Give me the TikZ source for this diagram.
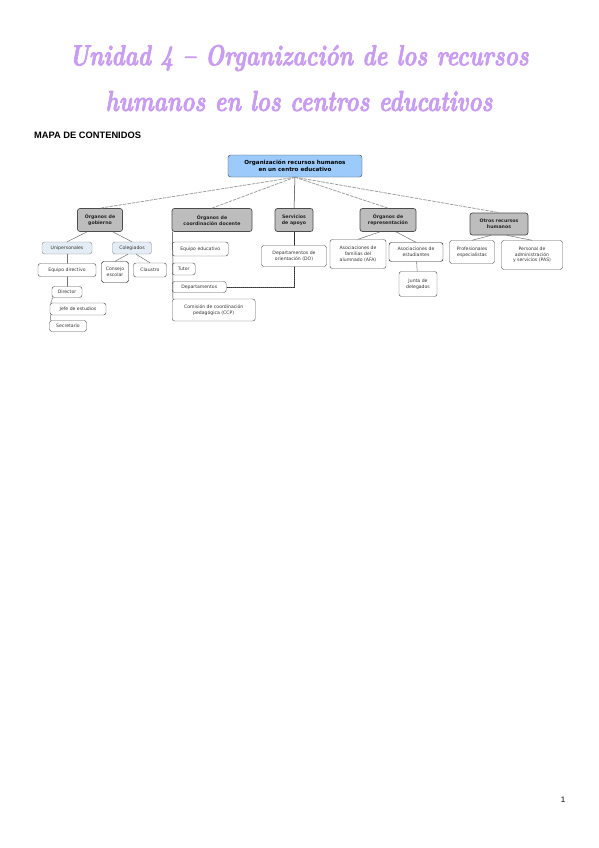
\documentclass[tikz,border=0pt]{standalone}
\usepackage{fontspec}
\setmainfont{Latin Modern Roman}
\newfontfamily\mapfont{DejaVu Sans}
\newfontfamily\headfont{Liberation Sans}
\newfontfamily\titlefont{lmroman10-bolditalic.otf}[FakeBold=2.5]
\usepackage{tikz}
\definecolor{lila}{HTML}{C99BF2}
\definecolor{rootblue}{HTML}{9CCBFB}
\definecolor{boxgray}{HTML}{BDBDBD}
\definecolor{paleblue}{HTML}{E4EDF5}

\tikzset{
  cbox/.style={rounded corners=2.5pt,align=center,inner sep=0.5pt,font=\mapfont\fontsize{4.6}{5.6}\selectfont,text=black!80},
  rootbox/.style={cbox,fill=rootblue,draw=black!75,font=\mapfont\bfseries\fontsize{5.6}{6.8}\selectfont,text=black},
  groupbox/.style={cbox,fill=boxgray,draw=black!70,line width=0.7pt,font=\mapfont\bfseries\fontsize{4.7}{5.8}\selectfont,text=black!85},
  kindbox/.style={cbox,fill=paleblue,draw=black!45},
  leafbox/.style={cbox,fill=white,draw=black!65,line width=0.45pt},
  titletext/.style={text=lila,font=\titlefont\fontsize{22.3}{27}\selectfont,yscale=1.3,transform shape},
  dashlink/.style={gray!75,line width=0.8pt,dash pattern=on 3pt off 1.5pt},
  link/.style={black!80,line width=0.5pt},
  softlink/.style={black!55,line width=0.5pt},
  dotlink/.style={black!80,line width=0.5pt,dash pattern=on 1.2pt off 0.8pt}
}

\begin{document}
\begin{tikzpicture}[x=1pt,y=-1pt,line cap=round]
\useasboundingbox (0,0) rectangle (599,848);

% title
\node[titletext] (title1) at (299,58) {Unidad 4 – Organización de los recursos};
\node[titletext] (title2) at (299,101) {humanos en los centros educativos};
\node[anchor=west,font=\headfont\bfseries\fontsize{9.3}{11}\selectfont,inner sep=0] (mapa) at (34,135) {MAPA DE CONTENIDOS};

% root
\node[rootbox,minimum width=134,minimum height=22] (root) at (295,166) {Organización recursos humanos\\en un centro educativo};

% first level
\node[groupbox,minimum width=45,minimum height=23] (gob) at (100,220) {Órganos de\\gobierno};
\node[groupbox,minimum width=80,minimum height=23] (coord) at (212,220) {Órganos de\\coordinación docente};
\node[groupbox,minimum width=38,minimum height=23] (apoyo) at (294,220) {Servicios\\de apoyo};
\node[groupbox,minimum width=56,minimum height=23] (repr) at (388,220) {Órganos de\\representación};
\node[groupbox,minimum width=58,minimum height=22] (otros) at (499,224) {Otros recursos\\humanos};

\draw[dashlink] (root.south) -- (gob.north);
\draw[dashlink] (root.south) -- (coord.north);
\draw[link] (root.south) -- (apoyo.north);
\draw[dashlink] (root.south) -- (repr.north);
\draw[dashlink] (root.south) -- (otros.north);

% organos de gobierno
\node[kindbox,minimum width=50,minimum height=12] (unip) at (67,248) {Unipersonales};
\node[kindbox,minimum width=39,minimum height=12] (coleg) at (132,248) {Colegiados};
\node[leafbox,minimum width=58,minimum height=13] (equipo) at (67,270) {Equipo directivo};
\node[leafbox,minimum width=27,minimum height=21,draw=black!90] (consejo) at (115,272) {Consejo\\escolar};
\node[leafbox,minimum width=33,minimum height=14] (claustro) at (150,270) {Claustro};
\node[leafbox,minimum width=30,minimum height=11] (director) at (67,292) {Director};
\node[leafbox,minimum width=56,minimum height=12] (jefe) at (78,309) {Jefe de estudios};
\node[leafbox,minimum width=37,minimum height=11] (secre) at (68,326) {Secretario};

\draw[softlink] (gob.south west)+(10,0) -- (unip.north);
\draw[softlink] (gob.south east)+(-10,0) -- (coleg.north);
\draw[softlink] (unip) -- (equipo);
\draw[softlink] (coleg.south)+(-4,0) -- (consejo.north);
\draw[softlink] (coleg.south)+(4,0) -- (claustro.north);
\draw[softlink] (equipo.south) -- (director.north);
\draw[softlink] ([xshift=1pt]director.south west) -- ([xshift=1pt]jefe.north west);
\draw[softlink] ([xshift=1pt]jefe.south west) -- ([xshift=1pt]secre.north west);

% coordinacion docente
\node[leafbox,minimum width=56,minimum height=14,anchor=west] (eqedu) at (172,249) {Equipo educativo};
\node[leafbox,minimum width=23,minimum height=12,anchor=west] (tutor) at (172,269) {Tutor};
\node[leafbox,minimum width=54,minimum height=11,anchor=west] (depto) at (172,287) {Departamentos};
\node[leafbox,minimum width=83,minimum height=22,anchor=west] (ccp) at (172,310) {Comisión de coordinación\\pedagógica (CCP)};

\draw[link] ([xshift=1pt]coord.south west) -- ([xshift=1pt]ccp.north west);

% servicios de apoyo
\node[leafbox,minimum width=65,minimum height=21] (orient) at (294,256) {Departamentos de\\orientación (DO)};
\coordinate (bend) at (orient.south |- depto.east);
\draw[link] (apoyo) -- (orient);
\draw[dotlink] (orient.south) -- (bend) -- (depto.east);

% representacion
\node[leafbox,minimum width=56,minimum height=29] (afa) at (358,254) {Asociaciones de\\familias del\\alumnado (AFA)};
\node[leafbox,minimum width=54,minimum height=19,draw=black!90] (estud) at (416,252) {Asociaciones de\\estudiantes};
\node[leafbox,minimum width=38,minimum height=25] (junta) at (418,284) {Junta de\\delegados};

\draw[softlink] (repr.south)+(-8,0) -- (afa.north);
\draw[softlink] (repr.south)+(8,0) -- (estud.north);
\draw[softlink] (estud) -- (junta);

% otros recursos
\node[leafbox,minimum width=45,minimum height=23] (prof) at (472,252) {Profesionales\\especialistas};
\node[leafbox,minimum width=61,minimum height=29] (pas) at (532,255) {Personal de\\administración\\y servicios (PAS)};

\draw[softlink] (otros.south)+(-8,0) -- (prof.north);
\draw[softlink] (otros.south)+(8,0) -- (pas.north);

% page number
\node[font=\headfont\fontsize{8}{9}\selectfont] (page) at (563,800) {1};
\end{tikzpicture}
\end{document}
